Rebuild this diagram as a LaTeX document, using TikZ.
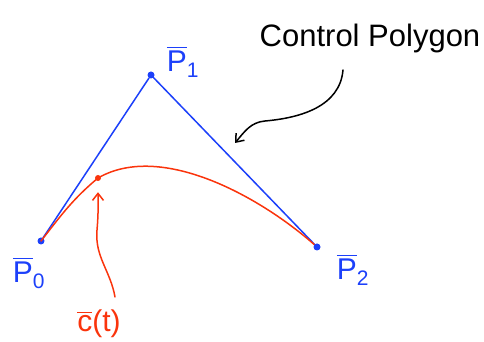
\documentclass[tikz,border=0pt]{standalone}
\usepackage{amsmath}
\usepackage{fontspec}
\setmainfont{Liberation Sans}
\usetikzlibrary{arrows.meta}
\definecolor{penblue}{RGB}{28,64,250}
\definecolor{penred}{RGB}{250,52,12}
\begin{document}
\begin{tikzpicture}[x=1pt, y=1pt, line cap=round, line join=round,
  every node/.style={font=\fontsize{30}{34}\selectfont},
  ptdot/.style={circle,fill,inner sep=0pt,minimum size=7pt},
  poly/.style={penblue,line width=1.5pt},
  curve/.style={penred,line width=1.5pt},
  pen/.style={line width=1.5pt,-{Straight Barb[length=7pt,width=11pt,line width=1.5pt]}}]
\useasboundingbox (0,0) rectangle (484,342);
\node[ptdot,penblue] (P0) at (41,101) {};
\node[ptdot,penblue] (P1) at (151,267) {};
\node[ptdot,penred,minimum size=6pt] (P2) at (317,95) {};
\node[ptdot,penred,minimum size=6pt] (c) at (98,164) {};
\draw[poly] (P0) -- (P1) -- (P2);
\draw[curve] (P0.center) to[out=52,in=220] (c.center) to[out=30,in=138,looseness=0.82] (P2.center);
\fill[penblue] (P2) circle (3.5pt);
\node[penblue] (lblP0) at (29,69) {$\overline{\text{P}}_{\text{0}}$};
\node[penblue] (lblP1) at (183,280) {$\overline{\text{P}}_{\text{1}}$};
\node[penblue] (lblP2) at (353,72) {$\overline{\text{P}}_{\text{2}}$};
\node[penred] (lblc) at (99,18) {$\overline{\text{c}}\text{(t)}$};
\node[anchor=base,font=\fontsize{31}{35}\selectfont] (title) at (370,295) {Control Polygon};
% hand drawn pointers
\coordinate (ptail) at (343,272);
\coordinate (phead) at (235,199);
\draw[pen] (ptail) to[out=-95,in=5] (265,221) to[out=185,in=50] (phead);
\coordinate (ctail) at (115,45);
\draw[pen,penred,shorten >=11pt] (ctail) to[out=100,in=-95] (97,112) to[out=85,in=-90] (c);
\end{tikzpicture}
\end{document}
